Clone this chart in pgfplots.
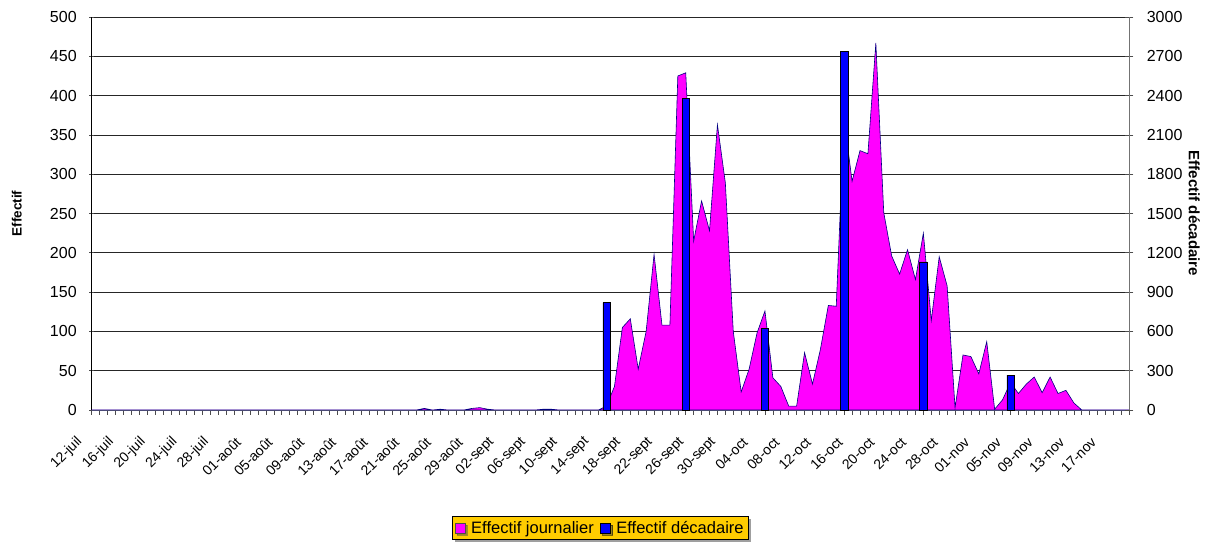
\documentclass[border=0pt]{standalone}
\usepackage{fontspec}
\setmainfont{Liberation Sans}
\usepackage{pgfplots}
\pgfplotsset{compat=1.18}
\usetikzlibrary{shadows}
\definecolor{areamag}{RGB}{255,0,255}
\definecolor{areaedge}{RGB}{0,0,128}
\definecolor{barblue}{RGB}{0,0,255}
\definecolor{legfill}{RGB}{255,204,0}
\newcommand{\tf}{\fontsize{16}{16}\selectfont}
\newcommand{\xf}{\fontsize{14}{14}\selectfont}
\begin{document}
\begin{tikzpicture}
\path[use as bounding box] (-91.7pt,-138pt) rectangle (1122.3pt,410pt);
\begin{axis}[
  scale only axis, width=1037.6pt, height=393pt,
  at={(0,0)}, anchor=south west,
  xmin=0, xmax=131, ymin=0, ymax=500,
  axis x line*=bottom, axis y line*=left,
  x axis line style={black!55, -}, y axis line style={black, -},
  xtick={0,4,...,128},
  minor xtick={0,...,131},
  xticklabels={12-juil,16-juil,20-juil,24-juil,28-juil,01-août,05-août,09-août,13-août,17-août,21-août,25-août,29-août,02-sept,06-sept,10-sept,14-sept,18-sept,22-sept,26-sept,30-sept,04-oct,08-oct,12-oct,16-oct,20-oct,24-oct,28-oct,01-nov,05-nov,09-nov,13-nov,17-nov},
  xticklabel style={font=\xf, xshift=-11pt, yshift=-24pt, rotate=45, anchor=east, inner sep=1pt},
  xtick align=outside,
  major tick length=5pt, minor tick length=5pt,
  every tick/.style={black!70, line width=0.6pt},
  ytick={0,50,...,500},
  ytick align=center,
  yticklabel style={font=\tf, xshift=-9pt},
  /pgf/number format/assume math mode=true,
  /pgf/number format/1000 sep={},
  ymajorgrids,
  grid style={black!85, line width=0.7pt},
  ylabel={\bfseries Effectif},
  ylabel style={font=\fontsize{13.5}{13.5}\selectfont, at={(axis description cs:-0.0723,0.5)}, anchor=center},
  clip=false,
]
\addplot[fill=areamag, draw=areaedge, line width=0.6pt] coordinates {
(0,0) (41,0) (42,2) (43,0) (44,1) (45,0) (47,0) (48,2) (49,3) (50,1) (51,0) (56,0) (57,1) (58,1) (59,0) (64,0)
(65,5) (66,30) (67,105) (68,116) (69,52) (70,100) (71,198) (72,108) (73,108) (74,425) (75,429) (76,215) (77,266) (78,228) (79,363) (80,289) (81,100) (82,23) (83,52) (84,98) (85,126) (86,41) (87,30) (88,5) (89,5) (90,73) (91,33) (92,77) (93,133) (94,132) (95,370) (96,291) (97,330) (98,326) (99,467) (100,251) (101,196) (102,173) (103,204) (104,166) (105,225) (106,114) (107,195) (108,158) (109,3) (110,70) (111,68) (112,46) (113,87) (114,1) (115,13) (116,35) (117,21) (118,33) (119,42) (120,22) (121,42) (122,21) (123,25) (124,9) (125,0) (131,0)
} \closedcycle;
\end{axis}
\begin{axis}[
  scale only axis, width=1037.6pt, height=393pt,
  at={(0,0)}, anchor=south west,
  xmin=0, xmax=131, ymin=0, ymax=3000,
  axis x line=none, axis y line*=right,
  y axis line style={black!55, -},
  ytick={0,300,...,3000},
  ytick align=center,
  major tick length=8pt,
  every tick/.style={black!70, line width=0.6pt},
  yticklabel style={font=\tf, xshift=10pt},
  /pgf/number format/assume math mode=true,
  /pgf/number format/1000 sep={},
  ylabel={\bfseries Effectif décadaire},
  ylabel style={font=\fontsize{15}{15}\selectfont, at={(axis description cs:1.0626,0.5)}, anchor=center, rotate=180},
  clip=false,
  legend columns=2,
  legend style={at={(0.49,-0.30)}, anchor=center, fill=legfill, draw=black, line width=0.6pt,
    font=\fontsize{16.5}{16.5}\selectfont, inner sep=2.5pt, column sep=4pt,
    drop shadow={shadow xshift=2.5pt, shadow yshift=-2.5pt, fill=black!75}},
  legend image code/.code={\draw[#1, line width=0.6pt] (0pt,-5pt) rectangle (10pt,5pt);},
]
\addlegendimage{fill=areamag, draw=black!70}
\addlegendentry{Effectif journalier}
\addplot[ybar, bar width=7.4pt, fill=barblue, draw=black, line width=0.6pt] coordinates {
(65,820) (75,2377) (85,623) (95,2735) (105,1131) (116,267)
};
\addlegendentry{Effectif décadaire}
\end{axis}
\end{tikzpicture}
\end{document}
